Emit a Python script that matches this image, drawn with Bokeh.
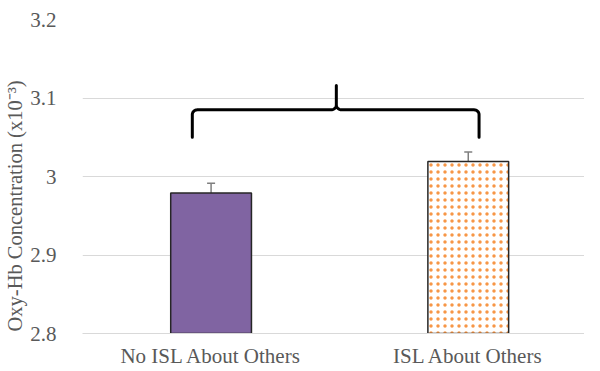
import numpy as np
from bokeh.plotting import figure
from bokeh.models import Range1d, FixedTicker, ColumnDataSource, Whisker, Title
from bokeh.embed import file_html
from bokeh.resources import INLINE

categories = ["No ISL About Others", "ISL About Others"]
means = [2.979, 3.019]
errors = [0.0123, 0.0122]
y_ticks = [2.8, 2.9, 3.0, 3.1, 3.2]
y_tick_labels = ["2.8", "2.9", "3", "3.1", "3.2"]
y_title = "Oxy-Hb Concentration (x10\u207b\u00b3)"

xs = [0.5, 1.5]

p = figure(width=584, height=370, output_backend="svg", toolbar_location=None,
           x_range=Range1d(0, 1.952), y_range=Range1d(2.8, 3.2),
           min_border_left=82, min_border_right=0, min_border_top=19, min_border_bottom=36)
p.outline_line_color = None
p.background_fill_color = "white"

FONT = "Liberation Serif"
GRAY = "#595959"

# bars
p.vbar(x=[xs[0]], top=[means[0]], bottom=2.8, width=0.314,
       fill_color="#8064a2", line_color="#262626", line_width=1.5)
p.vbar(x=[xs[1]], top=[means[1]], bottom=2.8, width=0.314,
       fill_color="white", line_color="#262626", line_width=1.5,
       hatch_pattern="dot", hatch_color="#f79646", hatch_scale=7, hatch_weight=1.5)

# error bars
src = ColumnDataSource(dict(x=xs,
                            upper=[m + e for m, e in zip(means, errors)],
                            lower=[m - e for m, e in zip(means, errors)]))
w = Whisker(base="x", upper="upper", lower="lower", source=src, dimension="height",
            line_color="#7f7f7f", line_width=1.5)
for head in (w.upper_head, w.lower_head):
    head.size = 8
    head.line_color = "#7f7f7f"
    head.line_width = 1.5
p.add_layout(w)

# brace annotation spanning both groups
b_left, b_right, b_mid = 0.427, 1.542, 0.987
b_foot, b_arm, b_tip = 3.05, 3.085, 3.116
r_x, r_y = 0.02, 0.006

def corner(cx, cy, a0, a1, n=8):
    t = np.linspace(a0, a1, n)
    return cx + r_x * np.cos(t), cy + r_y * np.sin(t)

bx, by = [b_left], [b_foot]
cx, cy = corner(b_left + r_x, b_arm - r_y, np.pi, np.pi / 2)
bx += list(cx); by += list(cy)
cx, cy = corner(b_mid - r_x, b_arm + r_y, -np.pi / 2, 0)
bx += list(cx); by += list(cy)
bx += [b_mid]; by += [b_tip]
cx, cy = corner(b_mid + r_x, b_arm + r_y, np.pi, 3 * np.pi / 2)
bx += list(cx); by += list(cy)
cx, cy = corner(b_right - r_x, b_arm - r_y, np.pi / 2, 0)
bx += list(cx); by += list(cy)
bx += [b_right]; by += [b_foot]
p.line(bx, by, line_color="black", line_width=3, line_join="round", line_cap="round")

# axes
p.xaxis.ticker = FixedTicker(ticks=xs)
p.xaxis.major_label_overrides = {x: c for x, c in zip(xs, categories)}
p.yaxis.ticker = FixedTicker(ticks=y_ticks)
p.yaxis.major_label_overrides = {t: l for t, l in zip(y_ticks, y_tick_labels)}
for ax in (p.xaxis, p.yaxis):
    ax.major_tick_line_color = None
    ax.minor_tick_line_color = None
    ax.major_label_text_font = FONT
    ax.major_label_text_font_size = "21px"
    ax.major_label_text_color = GRAY
p.yaxis.axis_line_color = None
p.xaxis.axis_line_color = "#d9d9d9"
p.xaxis.major_label_standoff = 4
p.yaxis.major_label_standoff = 20

# y-axis title, placed slightly below the plot's centre as in the original
p.add_layout(Title(text=y_title, align="left", offset=2, standoff=3,
                   text_font=FONT, text_font_size="20.5px", text_color=GRAY,
                   text_font_style="normal"), "left")

p.xgrid.grid_line_color = None
p.ygrid.grid_line_color = "#d9d9d9"
p.ygrid.grid_line_width = 1

open("out.html", "w").write(file_html(p, INLINE))
